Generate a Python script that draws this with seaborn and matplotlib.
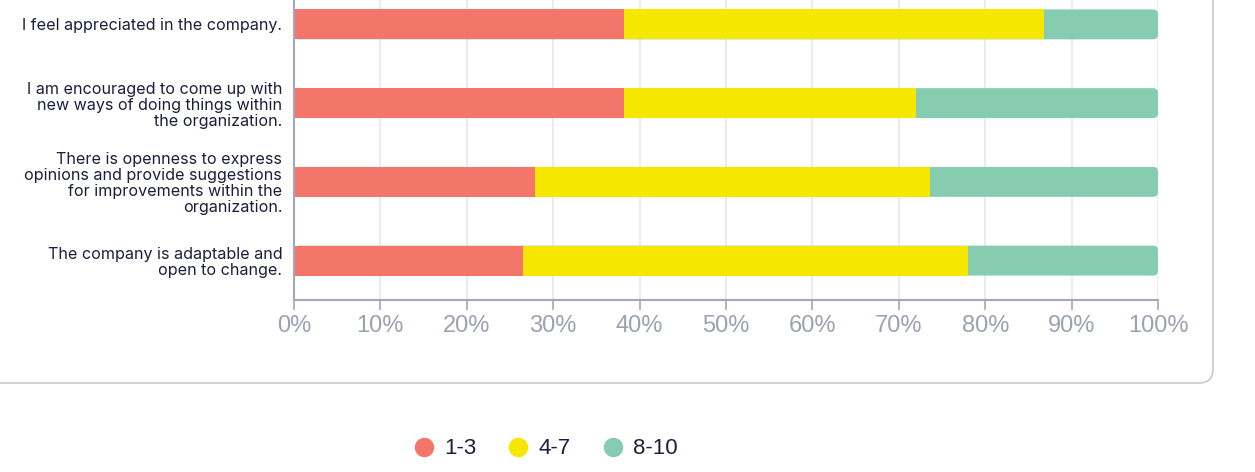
import matplotlib
matplotlib.use("Agg")
import matplotlib.pyplot as plt
import seaborn as sns
import pandas as pd
import numpy as np
from matplotlib.lines import Line2D
from matplotlib.patches import FancyBboxPatch

categories = [
    "I feel appreciated in the company.",
    "I am encouraged to come up with\nnew ways of doing things within\nthe organization.",
    "There is openness to express\nopinions and provide suggestions\nfor improvements within the\norganization.",
    "The company is adaptable and\nopen to change.",
]
series_names = ["1-3", "4-7", "8-10"]
low = [38.2, 38.2, 27.9, 26.5]
mid = [48.6, 33.8, 45.7, 51.5]
high = [13.2, 28.0, 26.4, 22.0]
colors = ["#F4756A", "#F5E700", "#85CCB1"]
tick_labels = ["0%", "10%", "20%", "30%", "40%", "50%", "60%", "70%", "80%", "90%", "100%"]

sns.set_theme(style="white")
plt.rcParams["font.family"] = ["Inter", "DejaVu Sans"]

df = pd.DataFrame({"category": categories, "low": low, "mid": mid, "high": high})
df["c1"] = df["low"]
df["c2"] = df["low"] + df["mid"]
df["c3"] = df["c2"] + df["high"]

fig = plt.figure(figsize=(12.55, 4.72), dpi=100)
ax = fig.add_axes([294 / 1255, 1 - 300 / 472, (1158 - 294) / 1255, (300 + 15) / 472])

sns.barplot(data=df, x="c3", y="category", orient="h", color=colors[2], width=0.38,
            saturation=1, ax=ax, linewidth=0, order=categories)
# round the right end of the full-length bars
x_per_px = 100 / 864
y_per_px = 1 / 78.5
for p in list(ax.patches):
    x0, y0 = p.get_x(), p.get_y()
    w, h = p.get_width(), p.get_height()
    p.remove()
    ax.add_patch(FancyBboxPatch((x0, y0), w, h,
                                boxstyle=f"round,pad=0,rounding_size={5 * x_per_px}",
                                mutation_aspect=y_per_px / x_per_px,
                                facecolor=colors[2], edgecolor="none", zorder=0.9))
for col, c in zip(["c2", "c1"], [colors[1], colors[0]]):
    sns.barplot(data=df, x=col, y="category", orient="h", color=c, width=0.38,
                saturation=1, ax=ax, linewidth=0, order=categories)

ax.set_xlim(0, 100)
ax.set_ylim(3.5, -0.5)
ax.set_xticks(np.arange(0, 101, 10))
ax.set_xticklabels(tick_labels, fontsize=17, color="#9BA1B1", family=["Liberation Sans", "DejaVu Sans"])
ax.set_xlabel("")
ax.set_ylabel("")
ax.tick_params(axis="x", length=7, width=1.2, color="#A3A9B8", pad=4, direction="out", bottom=True)
ax.tick_params(axis="y", length=0, pad=8.5)
for lbl in ax.get_yticklabels():
    lbl.set_fontsize(11.6)
    lbl.set_color("#1B1F3B")
    lbl.set_linespacing(1.08)
ax.grid(axis="x", color="#E6E8EC", linewidth=1.2, zorder=0.5)
ax.set_axisbelow(True)
for s in ["top", "right"]:
    ax.spines[s].set_visible(False)
for s in ["left", "bottom"]:
    ax.spines[s].set_color("#A3A9B8")
    ax.spines[s].set_linewidth(1.5)

# card border
card = FancyBboxPatch((-30, 89), 1213 + 30, 500, boxstyle="round,pad=0,rounding_size=14",
                      transform=None, facecolor="none", edgecolor="#C6CAD0", linewidth=1.2)
fig.patches.append(card)

handles = [Line2D([0], [0], marker="o", linestyle="", markersize=13, markerfacecolor=c,
                  markeredgecolor=c) for c in colors]
fig.legend(handles, series_names, loc="center", bbox_to_anchor=(545 / 1255, 1 - 449 / 472),
           ncol=3, frameon=False, handlelength=1.0, handletextpad=0.4, columnspacing=1.4,
           labelcolor="#1B1F3B", prop={"family": ["Liberation Sans", "DejaVu Sans"], "size": 16})

fig.savefig("out.png", dpi=100)
